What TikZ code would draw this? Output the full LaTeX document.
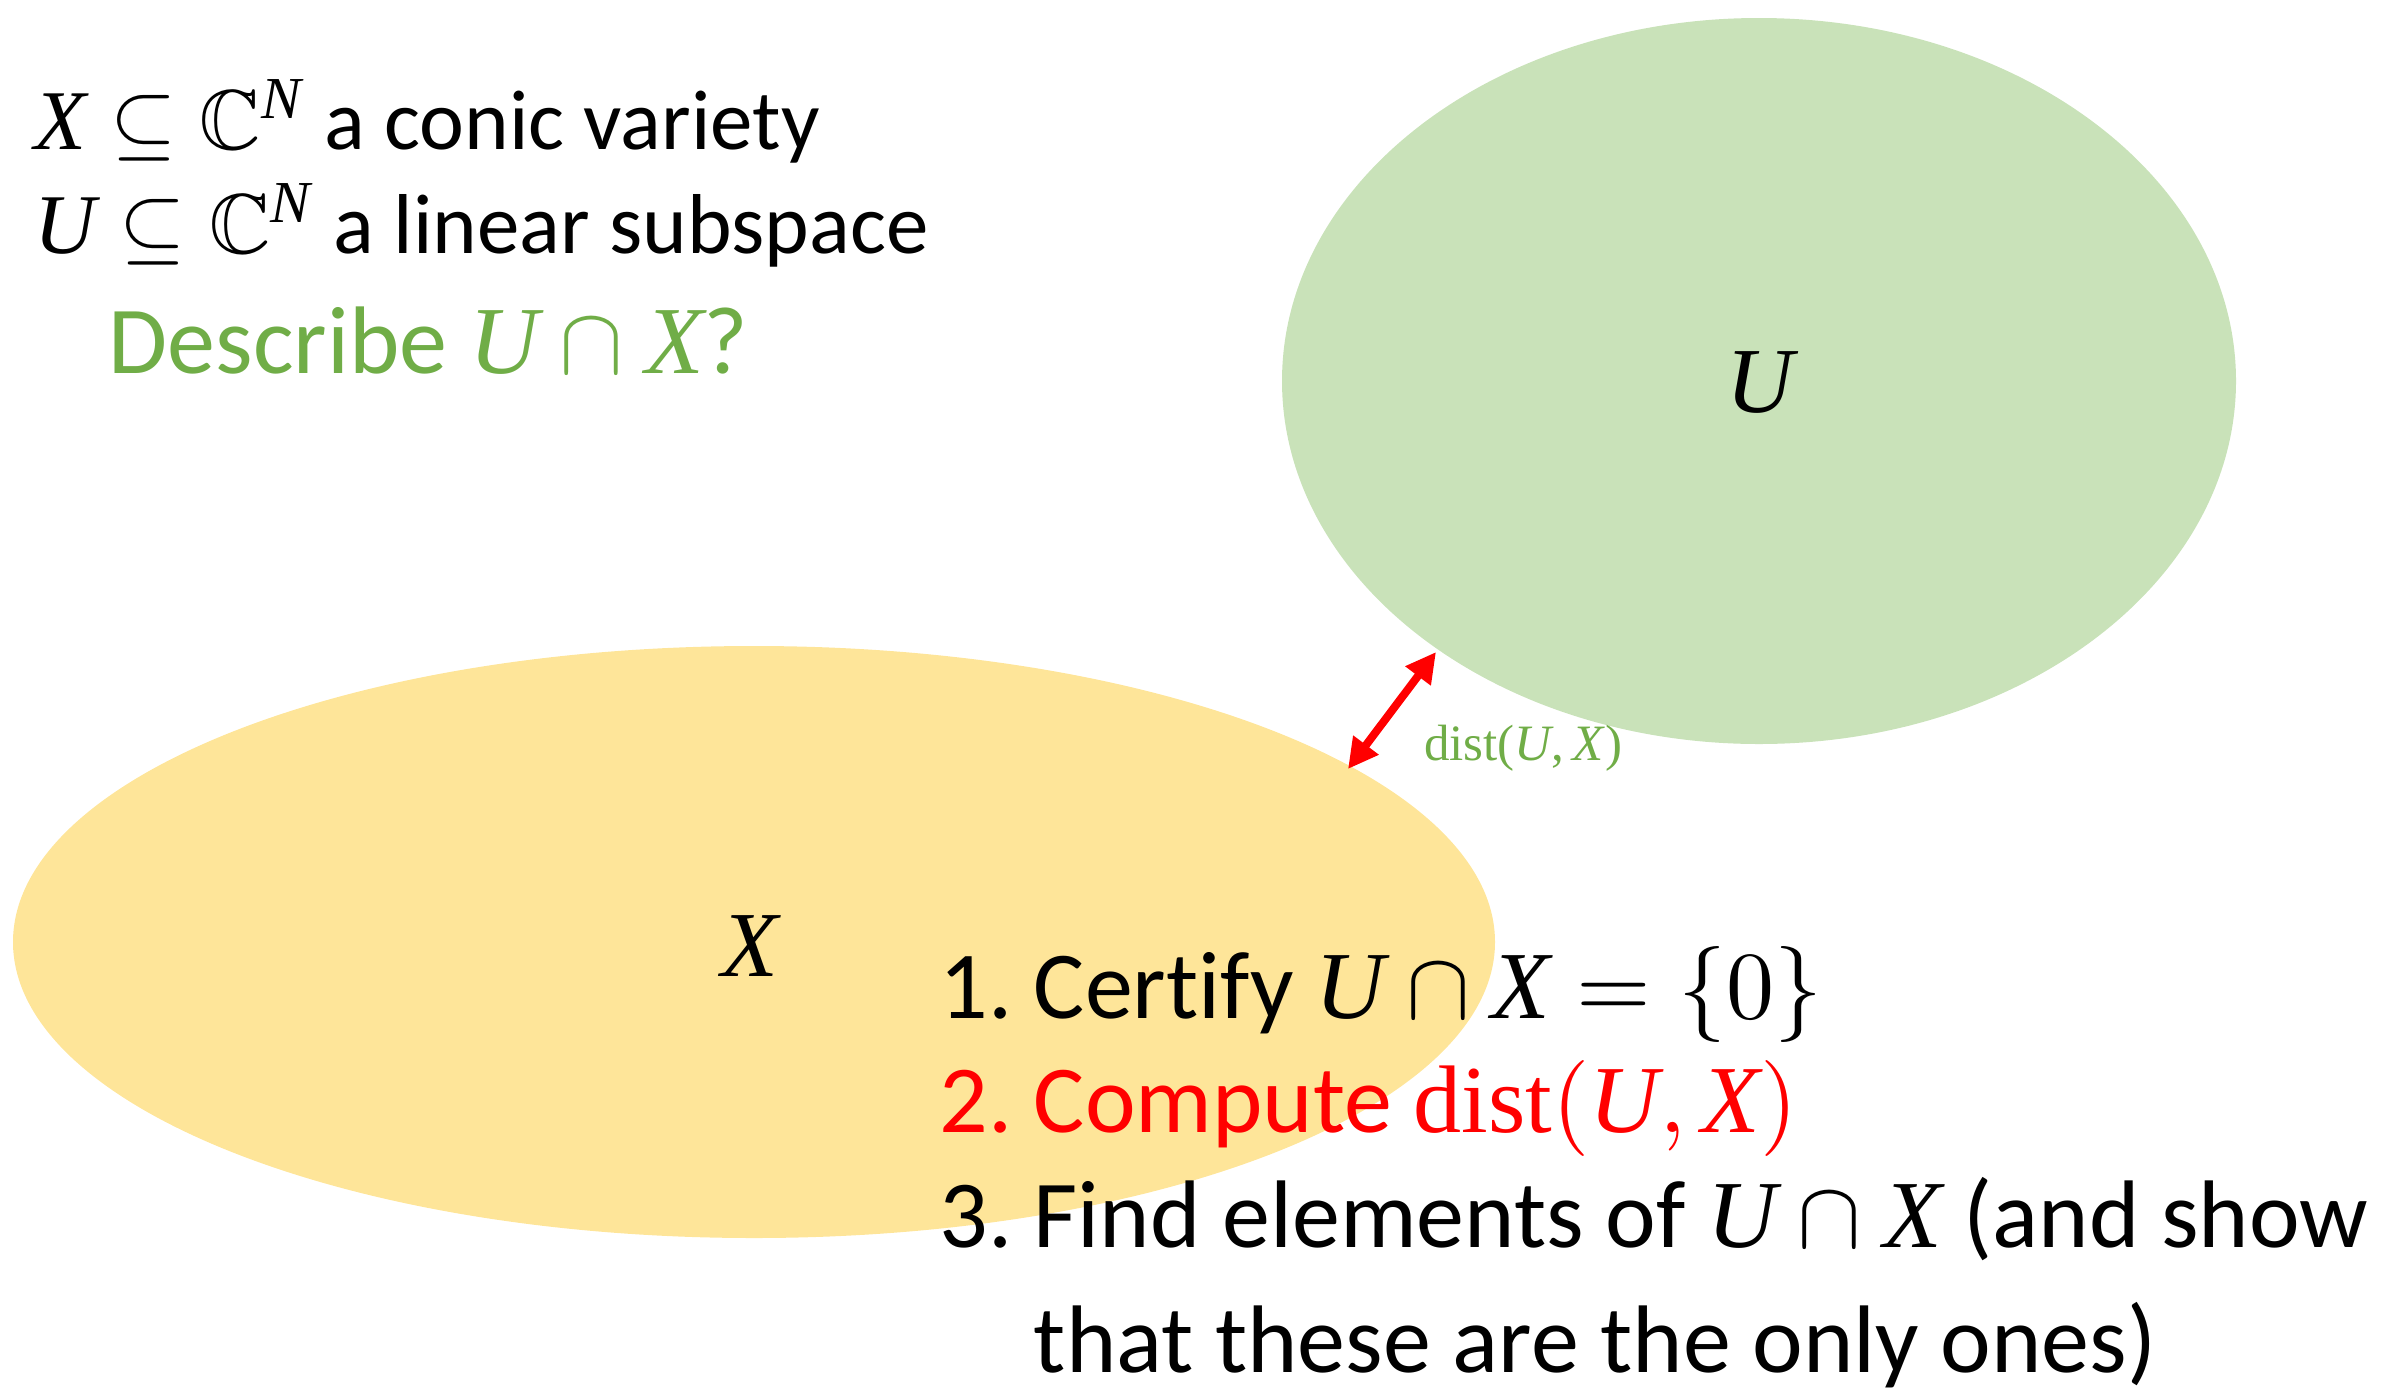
\documentclass[tikz,border=0pt]{standalone}
\usepackage{amsmath,amssymb}
\usepackage{fontspec}
\setmainfont{Carlito}[Ligatures=NoCommon]
\newfontfamily\mserif{Liberation Serif}
\newcommand\mv[1]{\mbox{\mserif\itshape #1}}
\newcommand\supN{\mbox{\mserif\itshape\fontsize{7}{8}\selectfont N}}
\usetikzlibrary{arrows.meta}
\definecolor{ugreen}{HTML}{C9E2B9}
\definecolor{xyellow}{HTML}{FEE599}
\definecolor{tgreen}{HTML}{70AD47}
\definecolor{tred}{HTML}{FF0000}
\begin{document}
\begin{tikzpicture}[x=1pt,y=-1pt,
  txt/.style={inner sep=0pt, anchor=base west, font=\fontsize{10}{12}\selectfont},
  smalltxt/.style={txt, scale=8.5},
  bigtxt/.style={txt, scale=9.6},
  biglabel/.style={txt, anchor=base, scale=9.3},
  distarrow/.style={tred, line width=8pt, {Triangle[length=30pt,width=30pt]}-{Triangle[length=30pt,width=30pt]}}]
\useasboundingbox (0,0) rectangle (2387,1390);
\fill[xyellow] (754,942) ellipse [x radius=741, y radius=296];
\fill[ugreen] (1759,381) ellipse [x radius=477, y radius=363];
\node[smalltxt] (l1) at (33,149) {$\mv{X}\subseteq\mathbb{C}^{\supN}$ a conic variety};
\node[smalltxt] (l2) at (33,253) {$\mv{U}\subseteq\mathbb{C}^{\supN}$ a linear subspace};
\node[bigtxt, text=tgreen] (l3) at (107,373) {Describe $\mv{U}\cap\mv{X}$?};
\node[biglabel] (lu) at (1760,412) {\mv{U}};
\node[biglabel] (lx) at (750,976) {\mv{X}};
\node[txt, scale=5.1, text=tgreen] (dl) at (1423,760) {\mserif dist(\textit{U},\,\textit{X})};
\coordinate (a1) at (1436,652);
\coordinate (a2) at (1348,769);
\draw[distarrow] (a2) -- (a1);
\node[bigtxt] (n1) at (938,1018) {1.};
\node[bigtxt] (i1) at (1032,1018) {Certify $\mv{U}\cap\mv{X}=\{0\}$};
\node[bigtxt, text=tred] (n2) at (938,1132) {2.};
\node[bigtxt, text=tred] (i2) at (1032,1132) {Compute \mbox{\mserif dist}$(\mv{U},\mv{X})$};
\node[bigtxt] (n3) at (938,1247) {3.};
\node[bigtxt] (i3) at (1032,1247) {Find elements of $\mv{U}\cap\mv{X}$ (and show};
\node[bigtxt] (i4) at (1032,1372) {that these are the only ones)};
\end{tikzpicture}
\end{document}
